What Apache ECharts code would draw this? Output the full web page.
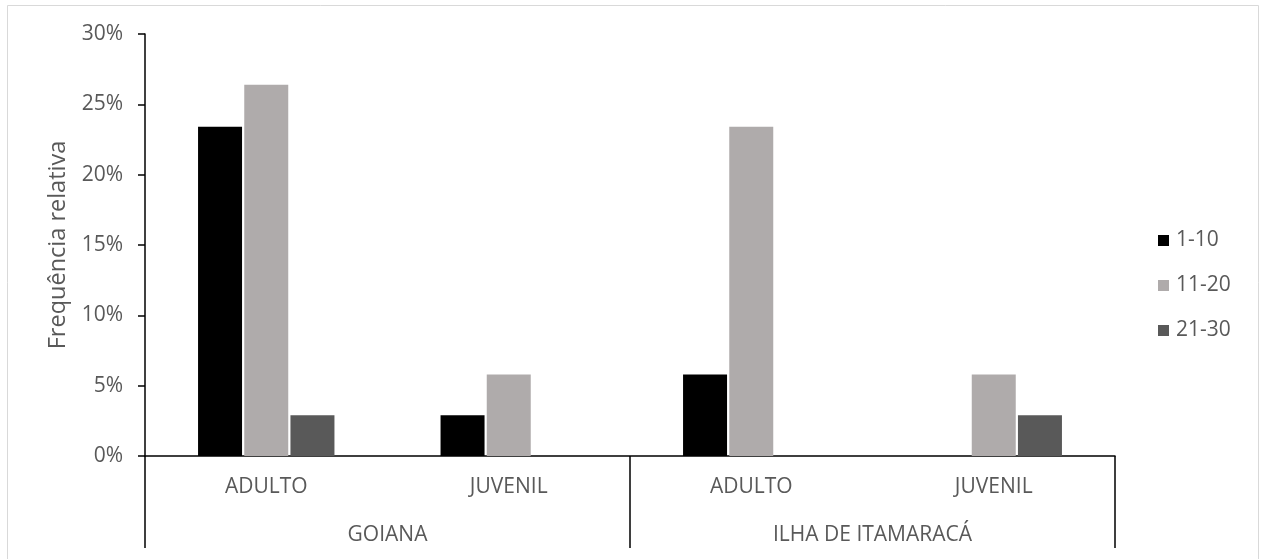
<!DOCTYPE html>
<html>
<head>
<meta charset="utf-8">
<script src="https://cdn.jsdelivr.net/npm/echarts@6/dist/echarts.min.js"></script>
<style>
  html, body { margin: 0; padding: 0; background: #ffffff; }
  #chart { width: 1263px; height: 559px; }
</style>
</head>
<body>
<div id="chart"></div>
<script>
// Classes (stage) within each site
const stages = ['ADULTO', 'JUVENIL', 'ADULTO', 'JUVENIL'];
// Sites grouping two stages each
const sites = ['GOIANA', 'ILHA DE ITAMARACÁ'];
// Size classes
const seriesNames = ['1-10', '11-20', '21-30'];
// Relative frequency (%) per size class, in stage order
const freq1to10 = [23.4, 2.9, 5.8, 0];
const freq11to20 = [26.4, 5.8, 23.4, 5.8];
const freq21to30 = [2.9, 0, 0, 2.9];

const colors = ['#000000', '#AFABAB', '#595959'];
const textColor = '#595959';
const font = '"Open Sans", "Noto Sans", sans-serif';
const fs = 21;

const chart = echarts.init(document.getElementById('chart'), null, { renderer: 'canvas' });

const seriesData = [freq1to10, freq11to20, freq21to30];

chart.setOption({
  animation: false,
  backgroundColor: '#ffffff',
  textStyle: { fontFamily: font },
  graphic: [{
    type: 'rect',
    silent: true,
    shape: { x: 7.5, y: 5.5, width: 1251, height: 600 },
    style: { fill: 'none', stroke: '#d9d9d9', lineWidth: 1 }
  }],
  grid: { left: 145, top: 34, right: 148, bottom: 103, containLabel: false },
  legend: {
    orient: 'vertical',
    left: 1158,
    top: 230,
    padding: 0,
    itemWidth: 11,
    itemHeight: 11,
    itemGap: 24,
    icon: 'rect',
    data: seriesNames,
    textStyle: { color: textColor, fontSize: fs, fontFamily: font, lineHeight: 20, padding: [0, 0, 0, 2] }
  },
  xAxis: [{
    type: 'category',
    data: stages,
    position: 'bottom',
    axisLine: { show: true, lineStyle: { color: '#000000', width: 1.5 } },
    axisTick: { show: false },
    axisLabel: { color: textColor, fontSize: fs, fontFamily: font, margin: 21, lineHeight: 20, interval: 0 },
    splitLine: { show: false }
  }, {
    type: 'category',
    data: sites,
    position: 'bottom',
    axisLine: { show: false },
    axisTick: { show: true, length: 92, interval: 0, lineStyle: { color: '#000000', width: 1.5 } },
    axisLabel: { color: textColor, fontSize: fs, fontFamily: font, margin: 69, lineHeight: 20, interval: 0 },
    splitLine: { show: false }
  }],
  yAxis: {
    type: 'value',
    min: 0,
    max: 30,
    interval: 5,
    name: 'Frequência relativa',
    nameLocation: 'middle',
    nameGap: 76,
    nameRotate: 90,
    nameTextStyle: { color: textColor, fontSize: 23.5, fontFamily: font, lineHeight: 22 },
    axisLine: { show: true, lineStyle: { color: '#000000', width: 1.5 } },
    axisTick: { show: true, inside: false, length: 7, lineStyle: { color: '#000000', width: 1.5 } },
    axisLabel: { color: textColor, fontSize: fs, fontFamily: font, margin: 22, formatter: '{value}%' },
    splitLine: { show: false }
  },
  series: seriesNames.map((name, i) => ({
    name: name,
    type: 'bar',
    xAxisIndex: 0,
    data: seriesData[i],
    barWidth: 44,
    barGap: '5%',
    itemStyle: { color: colors[i] }
  }))
});
</script>
</body>
</html>
